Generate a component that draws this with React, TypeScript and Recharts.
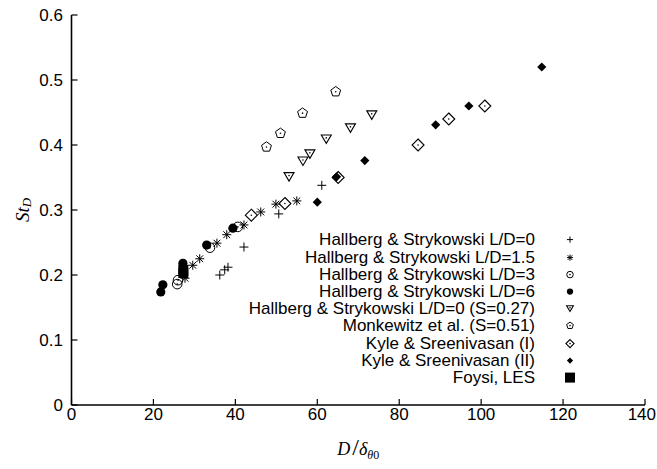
import React from "react";
import { ScatterChart, Scatter, XAxis, YAxis, Legend } from "recharts";

// ---- data ----
const xTicks = [0, 20, 40, 60, 80, 100, 120, 140];
const yTicks = [0, 0.1, 0.2, 0.3, 0.4, 0.5, 0.6];

const hallbergLD0 = [
  { x: 36.2, y: 0.2 }, { x: 37.4, y: 0.208 }, { x: 38.2, y: 0.212 },
  { x: 42.1, y: 0.243 }, { x: 50.6, y: 0.294 }, { x: 61.1, y: 0.338 },
];
const hallbergLD15 = [
  { x: 27.7, y: 0.195 }, { x: 29.6, y: 0.215 }, { x: 31.3, y: 0.225 },
  { x: 35.5, y: 0.249 }, { x: 37.9, y: 0.262 }, { x: 42.1, y: 0.277 },
  { x: 46.2, y: 0.297 }, { x: 49.9, y: 0.309 }, { x: 55.0, y: 0.314 },
];
const hallbergLD3 = [
  { x: 25.8, y: 0.186 }, { x: 26.0, y: 0.192 }, { x: 33.8, y: 0.242 }, { x: 40.6, y: 0.274 },
];
const hallbergLD6 = [
  { x: 21.8, y: 0.174 }, { x: 22.3, y: 0.185 }, { x: 27.2, y: 0.218 },
  { x: 33.0, y: 0.246 }, { x: 39.4, y: 0.272 },
];
const hallbergS027 = [
  { x: 53.1, y: 0.351 }, { x: 56.5, y: 0.375 }, { x: 58.2, y: 0.386 },
  { x: 62.2, y: 0.409 }, { x: 68.1, y: 0.426 }, { x: 73.3, y: 0.446 },
];
const monkewitz = [
  { x: 47.6, y: 0.397 }, { x: 51.0, y: 0.418 }, { x: 56.4, y: 0.449 }, { x: 64.5, y: 0.482 },
];
const kyleI = [
  { x: 43.9, y: 0.292 }, { x: 52.1, y: 0.31 }, { x: 65.1, y: 0.35 },
  { x: 84.6, y: 0.4 }, { x: 92.1, y: 0.44 }, { x: 100.9, y: 0.46 },
];
const kyleII = [
  { x: 60.0, y: 0.312 }, { x: 64.7, y: 0.351 }, { x: 71.6, y: 0.376 },
  { x: 88.9, y: 0.431 }, { x: 97.0, y: 0.46 }, { x: 114.8, y: 0.52 },
];
const foysi = [{ x: 27.3, y: 0.203 }, { x: 27.3, y: 0.208 }];

const seriesNames = [
  "Hallberg & Strykowski L/D=0",
  "Hallberg & Strykowski L/D=1.5",
  "Hallberg & Strykowski L/D=3",
  "Hallberg & Strykowski L/D=6",
  "Hallberg & Strykowski L/D=0 (S=0.27)",
  "Monkewitz et al. (S=0.51)",
  "Kyle & Sreenivasan (I)",
  "Kyle & Sreenivasan (II)",
  "Foysi, LES",
];
const seriesKinds = ["plus", "star", "ocircle", "fcircle", "tri", "pent", "odiamond", "fdiamond", "square"];
const seriesData = [hallbergLD0, hallbergLD15, hallbergLD3, hallbergLD6, hallbergS027, monkewitz, kyleI, kyleII, foysi];

const FONT = '"Liberation Sans", Arial, Helvetica, sans-serif';
const SERIF = '"Liberation Serif", "DejaVu Serif", serif';

function Marker({ kind, cx, cy, s = 1 }: { kind: string; cx: number; cy: number; s?: number }) {
  const k = "#000";
  switch (kind) {
    case "plus": {
      const r = 4.5 * s;
      return (
        <g stroke={k} strokeWidth={1}>
          <line x1={cx - r} x2={cx + r} y1={cy} y2={cy} />
          <line x1={cx} x2={cx} y1={cy - r} y2={cy + r} />
        </g>
      );
    }
    case "star": {
      const r = 4.5 * s;
      const d = 3.4 * s;
      return (
        <g stroke={k} strokeWidth={1}>
          <line x1={cx - r} x2={cx + r} y1={cy} y2={cy} />
          <line x1={cx} x2={cx} y1={cy - r} y2={cy + r} />
          <line x1={cx - d} x2={cx + d} y1={cy - d} y2={cy + d} />
          <line x1={cx - d} x2={cx + d} y1={cy + d} y2={cy - d} />
        </g>
      );
    }
    case "ocircle":
      return (
        <g>
          <circle cx={cx} cy={cy} r={4.8 * s} fill="none" stroke={k} strokeWidth={1} />
          <circle cx={cx} cy={cy} r={0.8} fill={k} />
        </g>
      );
    case "fcircle":
      return <circle cx={cx} cy={cy} r={4.6 * s} fill={k} />;
    case "tri": {
      const w = 5 * s;
      const h = 4.2 * s;
      return (
        <g>
          <polygon
            points={`${cx - w},${cy - h} ${cx + w},${cy - h} ${cx},${cy + h}`}
            fill="none"
            stroke={k}
            strokeWidth={1.1}
          />
          <circle cx={cx} cy={cy - h * 0.3} r={0.8} fill={k} />
        </g>
      );
    }
    case "pent": {
      const r = 5.2 * s;
      const pts = [0, 1, 2, 3, 4]
        .map((i) => {
          const a = -Math.PI / 2 + (i * 2 * Math.PI) / 5;
          return `${cx + r * Math.cos(a)},${cy + r * Math.sin(a)}`;
        })
        .join(" ");
      return (
        <g>
          <polygon points={pts} fill="none" stroke={k} strokeWidth={1} />
          <circle cx={cx} cy={cy} r={0.8} fill={k} />
        </g>
      );
    }
    case "odiamond": {
      const r = 6 * s;
      return (
        <g>
          <polygon
            points={`${cx},${cy - r} ${cx + r},${cy} ${cx},${cy + r} ${cx - r},${cy}`}
            fill="none"
            stroke={k}
            strokeWidth={1.1}
          />
          <circle cx={cx} cy={cy} r={0.8} fill={k} />
        </g>
      );
    }
    case "fdiamond": {
      const r = 4.6 * s;
      return (
        <polygon points={`${cx},${cy - r} ${cx + r},${cy} ${cx},${cy + r} ${cx - r},${cy}`} fill={k} />
      );
    }
    case "square": {
      const r = 5 * s;
      return <rect x={cx - r} y={cy - r} width={2 * r} height={2 * r} fill={k} />;
    }
    default:
      return null;
  }
}

const YTick = (props: any) => {
  const { x, y, payload } = props;
  const ax = x + 8.5;
  const v = payload.value;
  return (
    <g>
      <line x1={ax} x2={ax + 6} y1={y} y2={y} stroke="#000" strokeWidth={1.2} />
      <text x={x} y={y} dy={6} textAnchor="end" fontFamily={FONT} fontSize={17} fill="#000">
        {v === 0 ? "0" : v.toFixed(1)}
      </text>
    </g>
  );
};

const XTick = (props: any) => {
  const { x, y, payload, index } = props;
  const ay = y - 3;
  const last = index === xTicks.length - 1;
  return (
    <g>
      <line x1={x} x2={x} y1={ay} y2={ay - 6} stroke="#000" strokeWidth={1.2} />
      <text
        x={last ? x + 11 : x}
        y={y}
        dy={12}
        textAnchor={last ? "end" : "middle"}
        fontFamily={FONT}
        fontSize={17}
        fill="#000"
      >
        {payload.value}
      </text>
    </g>
  );
};

const XTitle = (props: any) => {
  const vb = props.viewBox;
  const cx = vb.x + vb.width / 2;
  const by = vb.y + 50;
  return (
    <text x={cx} y={by} textAnchor="middle" fontFamily={SERIF} fill="#000">
      <tspan fontStyle="italic" fontSize={18}>D</tspan>
      <tspan fontSize={24} dx={2}>/</tspan>
      <tspan fontStyle="italic" fontSize={18}>δ</tspan>
      <tspan fontStyle="italic" fontSize={12} dy={4}>θ</tspan>
      <tspan fontSize={12}>0</tspan>
    </text>
  );
};

const YTitle = (props: any) => {
  const vb = props.viewBox;
  const cx = vb.x + 10.5;
  const cy = vb.y + vb.height / 2;
  return (
    <text
      x={cx}
      y={cy}
      transform={`rotate(-90 ${cx} ${cy})`}
      textAnchor="middle"
      dominantBaseline="central"
      fontFamily={SERIF}
      fill="#000"
    >
      <tspan fontStyle="italic" fontSize={19}>St</tspan>
      <tspan fontStyle="italic" fontSize={13} dy={4}>D</tspan>
    </text>
  );
};

const LegendBox = () => (
  <div style={{ fontFamily: FONT, fontSize: 17, color: "#000" }}>
    {seriesNames.map((name, i) => (
      <div key={name} style={{ display: "flex", height: 17.2, lineHeight: "17.2px", alignItems: "center" }}>
        <span style={{ width: 335, textAlign: "right", whiteSpace: "nowrap" }}>{name}</span>
        <svg width={70} height={17.2} style={{ display: "block" }}>
          <Marker kind={seriesKinds[i]} cx={35} cy={8.6} s={seriesKinds[i] === "square" ? 1 : 0.68} />
        </svg>
      </div>
    ))}
  </div>
);

export default function App() {
  return (
    <div style={{ position: "absolute", left: 0, top: 0, width: 657, height: 469, background: "#fff" }}>
      <ScatterChart width={657} height={469} margin={{ top: 15, right: 12, bottom: 24, left: 11.5 }}>
        <XAxis
          type="number"
          dataKey="x"
          domain={[0, 140]}
          ticks={xTicks}
          interval={0}
          height={40}
          tickSize={0}
          tickMargin={3}
          tickLine={false}
          tick={<XTick />}
          axisLine={{ stroke: "#000", strokeWidth: 1.6 }}
          label={{ content: <XTitle /> }}
        />
        <YAxis
          type="number"
          dataKey="y"
          domain={[0, 0.6]}
          ticks={yTicks}
          interval={0}
          width={60}
          tickSize={0}
          tickMargin={8.5}
          tickLine={false}
          tick={<YTick />}
          axisLine={{ stroke: "#000", strokeWidth: 1.6 }}
          label={{ content: <YTitle /> }}
        />
        <Legend
          layout="vertical"
          align="center"
          verticalAlign="middle"
          content={<LegendBox />}
          wrapperStyle={{ left: 200, top: 231.4, width: 410 }}
        />
        {seriesData.map((d, i) => (
          <Scatter
            key={seriesNames[i]}
            name={seriesNames[i]}
            data={d}
            isAnimationActive={false}
            shape={(p: any) => <Marker kind={seriesKinds[i]} cx={p.cx} cy={p.cy} />}
          />
        ))}
      </ScatterChart>
    </div>
  );
}
